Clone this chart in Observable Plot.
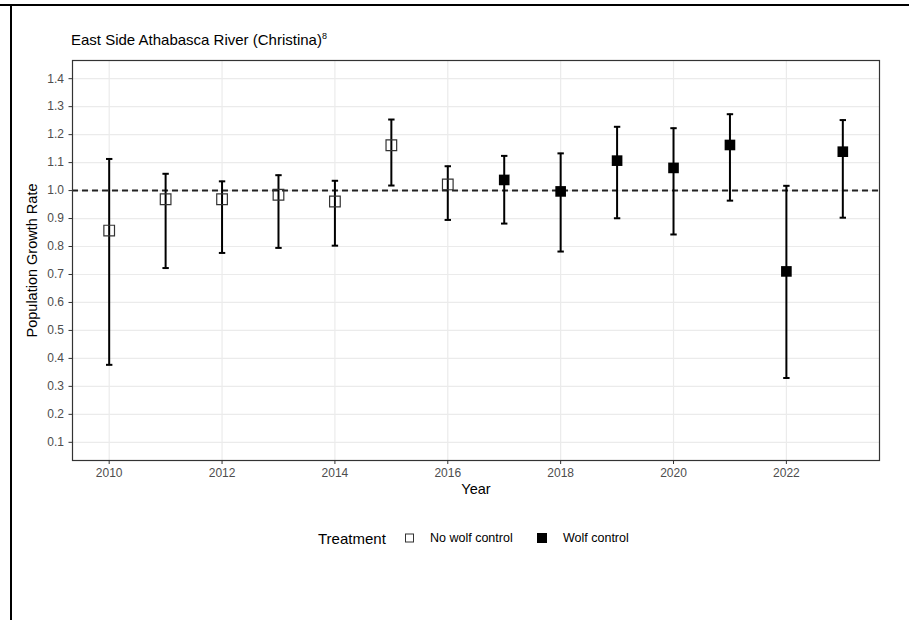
<!DOCTYPE html>
<html>
<head>
<meta charset="utf-8">
<script src="https://cdn.jsdelivr.net/npm/d3@7"></script>
<script src="https://cdn.jsdelivr.net/npm/@observablehq/plot@0.6"></script>
<style>
  html, body { margin: 0; padding: 0; background: #fff; }
  #wrap { position: relative; width: 909px; height: 620px; overflow: hidden; font-family: "Liberation Sans", Arial, sans-serif; }
  #border { position: absolute; left: 0; top: 4px; width: 909px; height: 2px; background: #000; }
  #borderL { position: absolute; left: 10px; top: 4px; width: 2px; height: 616px; background: #000; }
  #title { position: absolute; left: 71px; top: 31px; font-size: 15px; color: #000; white-space: nowrap; }
  #title sup { font-size: 9px; vertical-align: 6px; line-height: 0; }
  #chart { position: absolute; left: 0; top: 0; }
  .lg { position: absolute; white-space: nowrap; line-height: 1; transform: translateY(-50%); }
  .lt { font-size: 15px; color: #000; }
  .lab { font-size: 12.5px; color: #000; }
  .sw { width: 9px; height: 9px; box-sizing: border-box; }
  g[aria-label="y-axis tick label"] text, g[aria-label="x-axis tick label"] text { fill: #4d4d4d; }
</style>
</head>
<body>
<div id="wrap">
  <div id="chart"></div>
  <div id="title">East Side Athabasca River (Christina)<sup>8</sup></div>
  <div id="legend"></div>
  <div id="border"></div>
  <div id="borderL"></div>
</div>
<script>
const years     = [2010, 2011, 2012, 2013, 2014, 2015, 2016, 2017, 2018, 2019, 2020, 2021, 2022, 2023];
const rate      = [0.857, 0.969, 0.969, 0.985, 0.961, 1.162, 1.022, 1.038, 0.997, 1.107, 1.081, 1.163, 0.711, 1.139];
const lower     = [0.377, 0.723, 0.777, 0.795, 0.803, 1.018, 0.895, 0.882, 0.782, 0.901, 0.843, 0.964, 0.330, 0.903];
const upper     = [1.113, 1.060, 1.033, 1.055, 1.035, 1.254, 1.087, 1.124, 1.133, 1.228, 1.223, 1.273, 1.017, 1.252];
const treatment = ["No wolf control","No wolf control","No wolf control","No wolf control","No wolf control","No wolf control","No wolf control",
                   "Wolf control","Wolf control","Wolf control","Wolf control","Wolf control","Wolf control","Wolf control"];
const treatments = ["No wolf control", "Wolf control"];
const yTicks = [0.1, 0.2, 0.3, 0.4, 0.5, 0.6, 0.7, 0.8, 0.9, 1.0, 1.1, 1.2, 1.3, 1.4];
const xTicks = [2010, 2012, 2014, 2016, 2018, 2020, 2022];
const reference = [1.0];

const data = years.map((y, i) => ({year: y, rate: rate[i], lower: lower[i], upper: upper[i], treatment: treatment[i]}));
const open = data.filter(d => d.treatment === treatments[0]);
const filled = data.filter(d => d.treatment === treatments[1]);

const capSymbol = {
  draw(context, size) {
    const r = 3.2;
    context.moveTo(-r, 0);
    context.lineTo(r, 0);
  }
};

const chart = Plot.plot({
  width: 909,
  height: 520,
  marginLeft: 72,
  marginRight: 30,
  marginTop: 60,
  marginBottom: 60,
  style: {fontFamily: "Liberation Sans, Arial, sans-serif", fontSize: "12px", background: "transparent"},
  x: {type: "linear", domain: [2009.35, 2023.65]},
  y: {domain: [0.035, 1.465]},
  marks: [
    Plot.ruleY(yTicks, {stroke: "#ebebeb", strokeWidth: 1.2}),
    Plot.ruleX(xTicks, {stroke: "#ebebeb", strokeWidth: 1.2}),
    Plot.ruleY(reference, {stroke: "#222", strokeWidth: 2, strokeDasharray: "6,4"}),
    Plot.ruleX(data, {x: "year", y1: "lower", y2: "upper", stroke: "#000", strokeWidth: 2}),
    Plot.dot(data, {x: "year", y: "lower", symbol: capSymbol, stroke: "#000", strokeWidth: 2, r: 3}),
    Plot.dot(data, {x: "year", y: "upper", symbol: capSymbol, stroke: "#000", strokeWidth: 2, r: 3}),
    Plot.dot(open, {x: "year", y: "rate", symbol: "square", r: 6.0, fill: "none", stroke: "#333", strokeWidth: 1.2}),
    Plot.dot(filled, {x: "year", y: "rate", symbol: "square", r: 6.0, fill: "#000", stroke: "none"}),
    Plot.frame({stroke: "#333", strokeWidth: 1.2}),
    Plot.axisY(yTicks, {tickSize: 3.5, tickPadding: 5, tickFormat: d3.format(".1f"), label: null, stroke: "#333"}),
    Plot.axisX(xTicks, {tickSize: 4, tickPadding: 4, tickFormat: d => String(d), label: null, stroke: "#333"}),
    Plot.text(["Population Growth Rate"], {frameAnchor: "left", dx: -40, rotate: -90, textAnchor: "middle", fontSize: 14.5, fill: "#000"}),
    Plot.text(["Year"], {frameAnchor: "bottom", dy: 33, fontSize: 14.5, fill: "#000"})
  ]
});
document.getElementById("chart").appendChild(chart);

const legend = document.getElementById("legend");
const cy = 538;
const items = [
  {cls: "lg lt", x: 318, html: "Treatment"},
  {cls: "lg sw", x: 405, html: "", style: "border:1px solid #333;background:#fff;"},
  {cls: "lg lab", x: 430, html: treatments[0]},
  {cls: "lg sw", x: 537, html: "", style: "background:#000;width:10px;height:10px;"},
  {cls: "lg lab", x: 563, html: treatments[1]}
];
legend.innerHTML = items.map(it =>
  `<span class="${it.cls}" style="left:${it.x}px;top:${cy}px;${it.style || ""}">${it.html}</span>`).join("");
</script>
</body>
</html>
